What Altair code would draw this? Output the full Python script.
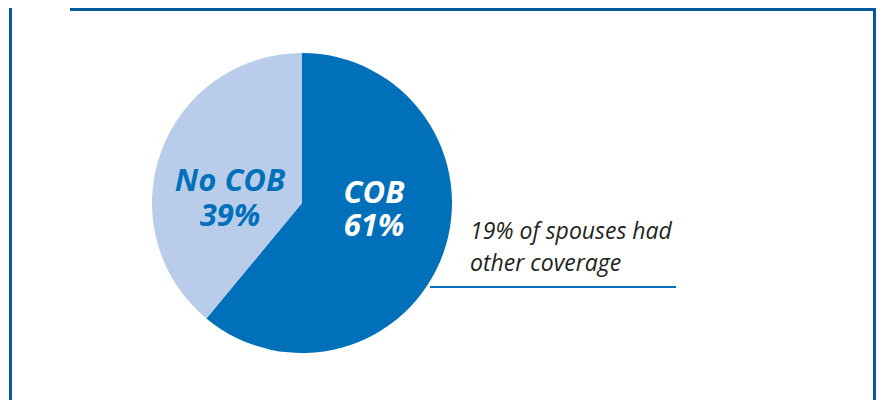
import altair as alt
import pandas as pd

# ---- data ----
categories = ["COB", "No COB"]
shares = [61, 39]
slice_order = [0, 1]
note_lines = ["19% of spouses had", "other coverage"]

DARK = "#0070BA"
LIGHT = "#B9CDEA"
FRAME = "#005A9C"
FONT = "Open Sans"

W, H = 868, 392
CX, CY, R = 294, 195, 150

df = pd.DataFrame({"category": categories, "share": shares, "order": slice_order})
df["label"] = df["category"] + "\n" + df["share"].astype(str) + "%"

base = alt.Chart(df)

pie = base.mark_arc(outerRadius=R).encode(
    theta=alt.Theta("share:Q", stack=True),
    order=alt.Order("order:Q"),
    color=alt.Color("category:N",
                    scale=alt.Scale(domain=categories, range=[DARK, LIGHT]),
                    legend=None),
    x=alt.value(CX),
    y=alt.value(CY),
)


def slice_label(cat, color, x, y, lh):
    sub = base.transform_filter(alt.datum.category == cat)
    return sub.mark_text(font=FONT, fontSize=31, fontWeight="bold", fontStyle="italic",
                         color=color, align="center", baseline="alphabetic",
                         lineBreak="\n", lineHeight=lh).encode(
        text="label:N", x=alt.value(x), y=alt.value(y))


lab_cob = slice_label("COB", "white", 366, 195, 33)
lab_no = slice_label("No COB", DARK, 222, 183, 35)

note_df = pd.DataFrame({"note": ["\n".join(note_lines)]})
note = alt.Chart(note_df).mark_text(
    font=FONT, fontSize=23, fontStyle="italic", color="#231F20",
    align="left", baseline="alphabetic", lineBreak="\n", lineHeight=32,
).encode(text="note:N", x=alt.value(462), y=alt.value(231))

one = pd.DataFrame({"k": [0]})
note_rule = alt.Chart(one).mark_rule(color=DARK, strokeWidth=2).encode(
    x=alt.value(422), x2=alt.value(668), y=alt.value(279))

top_bar = alt.Chart(one).mark_rect(color=FRAME).encode(
    x=alt.value(62), x2=alt.value(W), y=alt.value(0), y2=alt.value(3))
left_bar = alt.Chart(one).mark_rect(color=FRAME).encode(
    x=alt.value(1), x2=alt.value(4), y=alt.value(0), y2=alt.value(H))
right_bar = alt.Chart(one).mark_rect(color=FRAME).encode(
    x=alt.value(W - 3), x2=alt.value(W), y=alt.value(0), y2=alt.value(H))

chart = alt.layer(
    pie, lab_cob, lab_no, note, note_rule, top_bar, left_bar, right_bar
).properties(
    width=W, height=H, autosize=alt.AutoSizeParams(type="none"), padding=0,
    background="white",
).configure_view(stroke=None)

chart.save("out.html", embed_options={"renderer": "svg", "actions": False})
